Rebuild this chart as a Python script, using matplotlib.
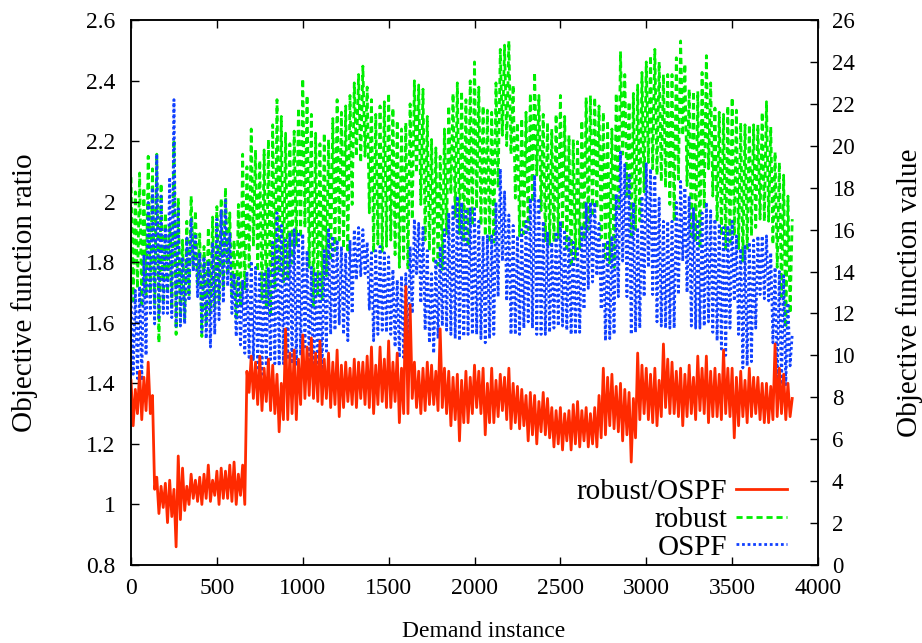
import numpy as np
import matplotlib
matplotlib.use("Agg")
import matplotlib.pyplot as plt

plt.rcParams['font.family'] = ['Liberation Serif', 'DejaVu Serif']
plt.rcParams['font.size'] = 17

# sampling step (demand instances between consecutive readings)
step = 12.5

# robust/OSPF ratio (left axis)
ratio = [1.41, 1.26, 1.38, 1.30, 1.44, 1.28, 1.42, 1.31, 1.47, 1.30, 1.36, 1.05,
         1.09, 0.97, 1.06, 0.99, 1.07, 0.94, 1.08, 0.96, 1.05, 0.86, 1.16, 0.95,
         1.12, 0.98, 1.06, 1.00, 1.10, 1.02, 1.08, 1.01, 1.09, 1.00, 1.10, 1.02,
         1.13, 1.01, 1.08, 1.03, 1.11, 1.00, 1.12, 1.02, 1.11, 1.02, 1.13, 1.01,
         1.14, 1.00, 1.10, 1.03, 1.13, 1.00, 1.44, 1.37, 1.49, 1.35, 1.47, 1.33,
         1.49, 1.31, 1.45, 1.34, 1.48, 1.31, 1.46, 1.30, 1.43, 1.24, 1.40, 1.28,
         1.58, 1.28, 1.50, 1.30, 1.51, 1.28, 1.48, 1.33, 1.56, 1.35, 1.52, 1.36,
         1.55, 1.35, 1.50, 1.34, 1.54, 1.33, 1.48, 1.35, 1.50, 1.32, 1.47, 1.33,
         1.51, 1.29, 1.46, 1.32, 1.47, 1.34, 1.45, 1.33, 1.48, 1.32, 1.47, 1.35,
         1.47, 1.33, 1.49, 1.32, 1.52, 1.30, 1.46, 1.33, 1.52, 1.34, 1.48, 1.32,
         1.54, 1.32, 1.47, 1.34, 1.50, 1.27, 1.45, 1.30, 1.72, 1.30, 1.66, 1.35,
         1.47, 1.32, 1.44, 1.30, 1.45, 1.31, 1.47, 1.33, 1.46, 1.33, 1.44, 1.31,
         1.58, 1.32, 1.45, 1.30, 1.44, 1.26, 1.42, 1.28, 1.43, 1.21, 1.41, 1.27,
         1.44, 1.27, 1.42, 1.30, 1.46, 1.32, 1.44, 1.30, 1.45, 1.23, 1.40, 1.27,
         1.45, 1.27, 1.41, 1.29, 1.43, 1.31, 1.42, 1.28, 1.45, 1.25, 1.40, 1.27,
         1.39, 1.25, 1.38, 1.26, 1.36, 1.21, 1.37, 1.23, 1.36, 1.20, 1.34, 1.24,
         1.37, 1.23, 1.35, 1.22, 1.32, 1.19, 1.31, 1.20, 1.32, 1.18, 1.30, 1.21,
         1.31, 1.18, 1.33, 1.20, 1.34, 1.19, 1.31, 1.21, 1.32, 1.19, 1.30, 1.20,
         1.32, 1.19, 1.36, 1.22, 1.45, 1.23, 1.42, 1.26, 1.43, 1.25, 1.39, 1.24,
         1.40, 1.21, 1.38, 1.23, 1.37, 1.14, 1.35, 1.22, 1.50, 1.28, 1.46, 1.30,
         1.45, 1.28, 1.43, 1.27, 1.45, 1.26, 1.41, 1.29, 1.53, 1.32, 1.48, 1.30,
         1.47, 1.30, 1.44, 1.29, 1.45, 1.26, 1.43, 1.29, 1.46, 1.30, 1.42, 1.28,
         1.49, 1.31, 1.45, 1.30, 1.49, 1.27, 1.44, 1.29, 1.45, 1.29, 1.43, 1.28,
         1.51, 1.30, 1.45, 1.29, 1.45, 1.22, 1.42, 1.26, 1.44, 1.29, 1.41, 1.27,
         1.45, 1.29, 1.42, 1.30, 1.42, 1.28, 1.40, 1.27, 1.40, 1.27, 1.39, 1.28,
         1.53, 1.29, 1.45, 1.30, 1.43, 1.28, 1.40, 1.29, 1.35]

# robust objective value (right axis)
robust = [18.5, 12.6, 17.8, 13.2, 18.7, 12.3, 18.0, 12.9, 19.5, 13.0, 18.9, 12.4,
          19.6, 10.6, 18.2, 12.5, 16.8, 13.0, 16.2, 12.2, 20.3, 11.0, 17.5, 11.6,
          15.5, 11.7, 16.4, 12.8, 17.6, 14.2, 16.9, 13.4, 15.8, 10.9, 15.2, 11.5,
          16.1, 12.0, 16.6, 12.3, 17.1, 12.6, 17.5, 13.2, 18.0, 13.8, 16.8, 12.9,
          15.5, 11.7, 17.2, 12.4, 19.6, 13.1, 19.0, 14.2, 20.8, 15.2, 19.8, 14.0,
          19.3, 12.6, 19.8, 12.2, 20.3, 12.0, 21.0, 13.2, 22.2, 13.9, 21.4, 13.5,
          20.6, 13.6, 20.1, 14.4, 20.7, 15.2, 21.8, 15.6, 23.2, 16.1, 22.4, 14.2,
          21.5, 12.3, 20.6, 12.9, 20.1, 12.6, 20.6, 13.8, 20.3, 14.5, 21.3, 15.0,
          22.2, 15.5, 21.6, 15.1, 21.9, 14.9, 22.4, 17.2, 23.0, 19.5, 23.4, 19.2,
          23.8, 19.5, 22.8, 16.8, 22.2, 14.9, 21.5, 15.3, 21.9, 14.9, 22.1, 15.2,
          22.5, 15.5, 21.8, 14.8, 21.2, 14.2, 20.8, 14.6, 21.1, 14.1, 22.0, 16.5,
          23.1, 18.7, 22.9, 17.2, 22.7, 15.5, 21.4, 15.0, 20.3, 14.5, 19.9, 14.3,
          19.5, 14.1, 20.8, 15.8, 21.9, 17.7, 22.5, 16.6, 23.0, 15.8, 22.6, 15.4,
          22.2, 15.2, 23.1, 16.2, 24.0, 17.0, 22.8, 16.2, 21.9, 15.7, 21.7, 15.5,
          21.6, 15.4, 23.0, 18.0, 24.6, 20.5, 24.8, 20.0, 25.0, 19.6, 22.9, 17.5,
          21.1, 15.7, 21.3, 15.8, 21.6, 16.0, 22.5, 17.3, 23.5, 18.6, 22.4, 16.9,
          21.5, 15.4, 21.1, 15.3, 20.8, 15.4, 21.5, 15.6, 22.4, 16.0, 21.4, 15.1,
          20.5, 14.2, 20.3, 14.6, 20.2, 15.1, 21.2, 15.5, 22.3, 16.0, 22.4, 16.6,
          22.3, 17.0, 21.9, 15.6, 21.6, 14.5, 21.2, 14.4, 20.8, 14.2, 22.5, 17.0,
          24.5, 19.6, 23.4, 17.6, 22.1, 15.7, 22.5, 16.0, 22.9, 16.4, 23.5, 17.8,
          24.0, 19.2, 24.3, 18.9, 24.6, 18.6, 24.0, 18.3, 23.4, 18.0, 23.4, 17.2,
          23.4, 16.4, 24.2, 18.4, 25.0, 20.5, 23.9, 18.1, 22.7, 15.7, 22.6, 15.4,
          22.6, 15.1, 23.5, 17.0, 24.3, 18.9, 23.0, 17.6, 21.8, 16.4, 21.6, 15.7,
          21.5, 15.1, 21.9, 15.4, 22.3, 15.7, 21.7, 15.1, 21.1, 14.5, 21.0, 15.1,
          21.0, 15.7, 21.0, 16.1, 21.0, 16.5, 21.6, 16.4, 22.1, 16.4, 20.9, 15.3,
          19.7, 14.2, 19.2, 12.8, 18.6, 11.3, 17.6, 12.0, 16.5]

# OSPF objective value (right axis)
ospf = [12.9, 9.1, 13.1, 8.9, 13.3, 8.8, 14.8, 10.0, 17.3, 12.0, 18.0, 11.5,
        19.6, 11.8, 17.6, 12.0, 16.1, 12.0, 18.5, 11.8, 22.2, 11.4, 17.0, 11.4,
        14.7, 11.5, 15.6, 12.6, 16.5, 14.0, 15.8, 12.8, 14.9, 11.1, 14.7, 10.8,
        14.5, 10.4, 15.4, 11.0, 16.5, 11.7, 16.9, 12.5, 17.4, 13.3, 15.8, 12.0,
        13.9, 10.9, 13.8, 10.5, 13.6, 10.1, 14.0, 9.9, 14.5, 9.8, 14.2, 9.4,
        13.9, 9.1, 14.0, 9.5, 14.2, 9.8, 15.4, 9.6, 16.8, 9.5, 16.2, 9.6,
        15.5, 9.8, 15.8, 9.6, 16.0, 9.5, 15.9, 10.0, 15.8, 10.4, 15.0, 9.5,
        14.2, 8.7, 14.0, 9.0, 13.9, 9.3, 15.0, 10.2, 16.0, 11.0, 15.7, 11.2,
        15.5, 11.5, 15.2, 11.0, 14.9, 10.7, 15.5, 12.0, 16.0, 13.6, 16.1, 13.8,
        16.0, 13.9, 15.4, 12.2, 14.9, 10.7, 15.0, 11.0, 15.2, 11.2, 14.9, 11.1,
        14.7, 11.0, 14.1, 10.4, 13.6, 9.9, 13.8, 9.9, 13.9, 9.9, 15.2, 12.0,
        16.5, 13.9, 16.3, 12.5, 16.1, 11.2, 15.0, 10.6, 13.9, 10.1, 14.6, 10.8,
        15.2, 11.4, 16.0, 11.2, 16.8, 11.0, 17.2, 10.8, 17.6, 10.7, 17.3, 10.9,
        17.0, 11.0, 17.0, 11.0, 17.0, 11.0, 16.4, 10.8, 15.7, 10.6, 15.7, 10.8,
        15.7, 11.0, 17.3, 12.8, 18.9, 14.5, 17.8, 12.6, 16.7, 11.0, 16.2, 11.0,
        15.7, 11.0, 16.0, 11.3, 16.4, 11.6, 17.5, 11.3, 18.6, 11.0, 17.5, 11.0,
        16.4, 11.0, 15.9, 11.1, 15.4, 11.3, 15.9, 11.4, 16.4, 11.4, 16.0, 11.2,
        15.7, 11.0, 15.4, 11.0, 15.1, 11.1, 16.2, 12.2, 17.3, 13.2, 17.3, 13.5,
        17.3, 13.8, 16.3, 12.2, 15.4, 10.7, 15.5, 10.8, 15.7, 11.0, 17.7, 12.8,
        19.7, 14.5, 19.1, 12.8, 18.6, 11.0, 17.3, 11.1, 16.1, 11.3, 17.6, 12.8,
        19.2, 14.2, 18.9, 12.9, 18.6, 11.6, 17.5, 11.4, 16.4, 11.3, 16.4, 11.3,
        16.4, 11.3, 17.3, 12.9, 18.3, 14.5, 18.0, 13.0, 17.6, 11.4, 17.0, 11.3,
        16.4, 11.3, 16.8, 11.4, 17.3, 11.6, 16.9, 11.1, 16.5, 10.7, 16.3, 10.3,
        16.1, 10.0, 16.2, 11.3, 16.4, 12.6, 15.7, 11.0, 15.1, 9.4, 15.2, 9.5,
        15.4, 9.7, 15.5, 11.3, 15.7, 12.9, 15.7, 12.7, 15.7, 12.6, 14.9, 10.6,
        14.2, 8.7, 14.0, 8.6, 13.8, 8.6, 12.5, 9.5, 11.0]

labels = ['robust/OSPF', 'robust', 'OSPF']
left_ticks = [0.8, 1, 1.2, 1.4, 1.6, 1.8, 2, 2.2, 2.4, 2.6]
left_ticklabels = ['0.8', '1', '1.2', '1.4', '1.6', '1.8', '2', '2.2', '2.4', '2.6']
right_ticks = list(range(0, 27, 2))
x_ticks = list(range(0, 4001, 500))

fig = plt.figure(figsize=(9.22, 6.43), dpi=100)
ax = fig.add_axes([0.1421, 0.1213, 0.7451, 0.8476])
ax2 = ax.twinx()

x_r = np.arange(len(ratio)) * step
x_g = np.arange(len(robust)) * step
x_b = np.arange(len(ospf)) * step

l1, = ax.plot(x_r, ratio, color='#ff2a00', lw=2.0, label=labels[0])
l2, = ax2.plot(x_g, robust, color='#00ee00', lw=2.0, dashes=(2.2, 1.4), label=labels[1])
l3, = ax2.plot(x_b, ospf, color='#1040ff', lw=2.0, dashes=(1.0, 1.0), label=labels[2])

ax.set_xlim(0, 4000)
ax.set_ylim(0.8, 2.6)
ax2.set_ylim(0, 26)
ax.set_xticks(x_ticks)
ax.set_yticks(left_ticks)
ax.set_yticklabels(left_ticklabels)
ax2.set_yticks(right_ticks)

ax.tick_params(axis='both', direction='in', length=6, width=1, top=True, right=False, labelsize=17)
ax.tick_params(axis='x', pad=9)
ax.tick_params(axis='y', pad=11)
ax2.tick_params(axis='y', direction='in', length=6, width=1, labelsize=16.5, pad=10)
for a in (ax, ax2):
    for s in a.spines.values():
        s.set_linewidth(1.1)

ax.set_xlabel('Demand instance', fontsize=17)
ax.xaxis.set_label_coords(0.513, -0.1035)
ax.set_ylabel('Objective function ratio', fontsize=21)
ax.yaxis.set_label_coords(-0.135, 0.5)
ax2.set_ylabel('Objective function value', fontsize=21)
ax2.yaxis.set_label_coords(1.113, 0.5)

leg = ax.legend([l1, l2, l3], labels, loc='lower right', bbox_to_anchor=(0.955, 0.008),
                frameon=False, markerfirst=False, handlelength=1.75, handletextpad=0.3,
                labelspacing=0.04, borderpad=0, borderaxespad=0, fontsize=21)
leg.set_zorder(10)
ax.set_zorder(ax2.get_zorder() + 1)
ax.patch.set_visible(False)

fig.savefig('out.png', dpi=100)
